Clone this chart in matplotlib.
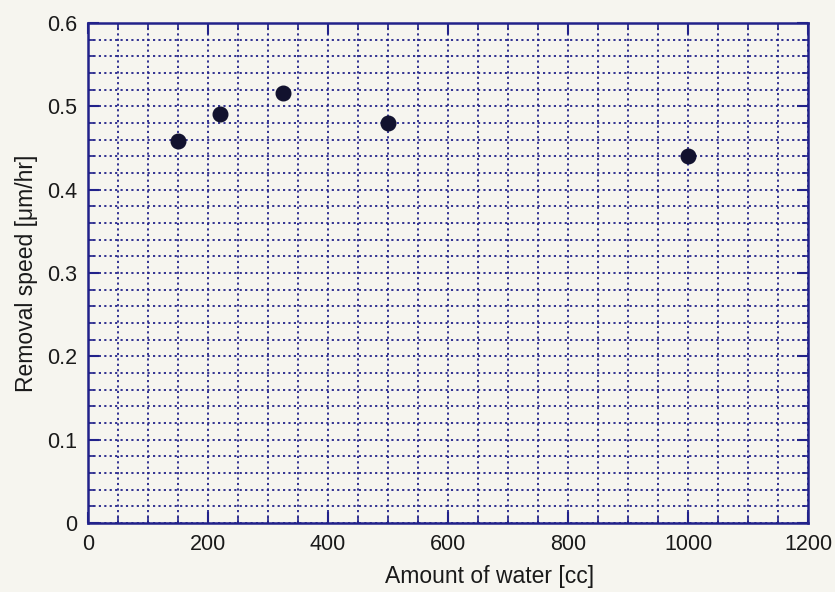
import matplotlib.pyplot as plt
from matplotlib.ticker import MultipleLocator

# amount of water [cc] vs removal speed [um/hr]
water = [150, 220, 325, 500, 1000]
speed = [0.458, 0.491, 0.516, 0.480, 0.440]

x_ticks = [0, 200, 400, 600, 800, 1000, 1200]
y_ticks = [0, 0.1, 0.2, 0.3, 0.4, 0.5, 0.6]
y_tick_labels = ["0", "0.1", "0.2", "0.3", "0.4", "0.5", "0.6"]

NAVY = "#22228a"
BG = "#f6f5ef"
TXT = "#1a1a1a"

plt.rcParams["font.family"] = ["Liberation Sans", "DejaVu Sans"]

fig = plt.figure(figsize=(8.35, 5.92), dpi=100, facecolor=BG)
ax = fig.add_axes([88 / 835, 69 / 592, 720 / 835, 500 / 592])
ax.set_facecolor(BG)

ax.plot(water, speed, "o", color="#12122e", markersize=10.5, zorder=5)

ax.set_xlim(0, 1200)
ax.set_ylim(0, 0.6)
ax.set_xticks(x_ticks)
ax.set_yticks(y_ticks)
ax.set_yticklabels(y_tick_labels)
ax.xaxis.set_minor_locator(MultipleLocator(50))
ax.yaxis.set_minor_locator(MultipleLocator(0.02))

ax.grid(which="both", linestyle=(0, (1.2, 1.8)), color=NAVY, linewidth=1.3)
ax.set_axisbelow(True)

for s in ax.spines.values():
    s.set_color(NAVY)
    s.set_linewidth(1.8)

ax.tick_params(which="both", direction="in", top=True, right=True,
               color=NAVY, labelsize=15.5, labelcolor=TXT)
ax.tick_params(which="major", length=8, width=1.5, pad=8)
ax.tick_params(which="minor", length=4, width=1.2)

ax.set_xlabel("Amount of water [cc]", fontsize=16.5, color=TXT, labelpad=4)
ax.xaxis.set_label_coords(0.558, -0.085)
ax.set_ylabel("Removal speed [\u03bcm/hr]", fontsize=16.5, color=TXT, labelpad=6)

fig.savefig("out.png", dpi=100, facecolor=BG)
